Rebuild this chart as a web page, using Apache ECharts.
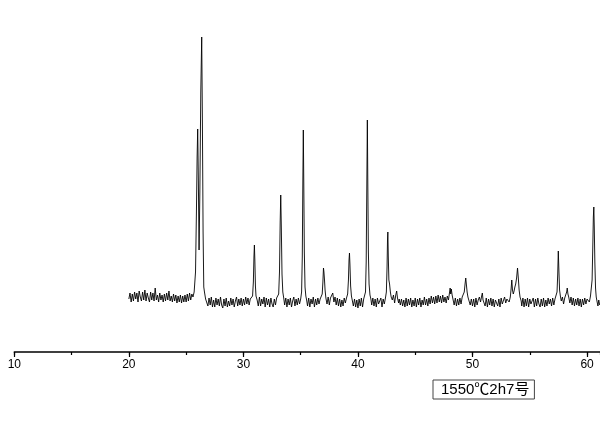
<!DOCTYPE html>
<html>
<head>
<meta charset="utf-8">
<script src="https://cdn.jsdelivr.net/npm/echarts@6/dist/echarts.min.js"></script>
<style>html,body{margin:0;padding:0;background:#fff}#chart{width:600px;height:421px}</style>
</head>
<body>
<div id="chart"></div>
<script>
// XRD scan: [2θ (deg), intensity (a.u.)]
const scanA = [
  [20.0,53],[20.1,59],[20.2,50],[20.3,58],[20.4,51],[20.5,60],[20.6,53],[20.7,59],[20.8,50],[20.9,61],
  [21.0,55],[21.1,51],[21.2,60],[21.3,52],[21.4,62],[21.5,51],[21.6,59],[21.7,54],[21.8,50],[21.9,60],
  [22.0,52],[22.1,59],[22.2,51],[22.3,64],[22.4,52],[22.5,57],[22.6,50],[22.7,59],[22.8,52],[22.9,57],
  [23.0,50],[23.1,58],[23.2,51],[23.3,59],[23.4,52],[23.5,61],[23.6,51],[23.7,56],[23.8,50],[23.9,58],
  [24.0,51],[24.1,57],[24.2,49],[24.3,56],[24.4,50],[24.5,57],[24.6,49],[24.7,56],[24.8,50],[24.9,57],
  [25.0,50],[25.1,58],[25.2,51],[25.3,59],[25.4,52],[25.5,58],[25.6,55],[25.7,60],
  [25.75,60],[25.82,80],[25.9,140],[25.96,195],[26.01,223],[26.07,170],[26.13,102],[26.2,160],
  [26.28,260],[26.36,315],[26.42,230],[26.48,120],[26.54,65],[26.6,60],[26.7,53]
];
const scanB = [
  [26.8,52],[26.9,46],[27.0,54],[27.1,47],[27.2,55],[27.3,45],[27.4,52],[27.5,45],[27.6,54],[27.7,47],
  [27.8,53],[27.9,46],[28.0,55],[28.1,47],[28.2,44],[28.3,53],[28.4,46],[28.5,54],[28.6,45],[28.7,51],
  [28.8,46],[28.9,54],[29.0,47],[29.1,53],[29.2,45],[29.3,51],[29.4,55],[29.5,46],[29.6,53],[29.7,47],
  [29.8,54],[29.9,46],[30.0,53],[30.1,47],[30.2,55],[30.3,48],[30.4,54],[30.5,47],[30.6,53],[30.7,51],
  [30.8,56],[30.87,70],[30.92,95],[30.96,107],[31.0,92],[31.05,66],[31.1,56],[31.2,52],
  [31.3,46],[31.4,55],[31.5,46],[31.6,53],[31.7,48],[31.8,55],[31.9,45],[32.0,54],[32.1,47],[32.2,53],
  [32.3,45],[32.4,54],[32.5,48],[32.6,45],[32.7,53],[32.8,47],[32.9,54],[33.0,52],
  [33.08,58],[33.15,80],[33.21,130],[33.26,157],[33.31,125],[33.37,78],[33.44,60],[33.52,54],
  [33.6,47],[33.7,54],[33.8,45],[33.9,53],[34.0,47],[34.1,54],[34.2,45],[34.3,51],[34.4,55],[34.5,46],
  [34.6,53],[34.7,47],[34.8,54],[34.9,48],[35.0,53],
  [35.08,60],[35.14,95],[35.19,170],[35.23,222],[35.27,170],[35.32,100],[35.38,65],[35.45,56],[35.52,52]
];
const scanC = [
  [35.6,46],[35.7,54],[35.8,45],[35.9,53],[36.0,48],[36.1,55],[36.2,45],[36.3,53],[36.4,47],[36.5,54],
  [36.6,48],[36.7,53],[36.8,54],
  [36.88,58],[36.94,70],[36.99,84],[37.03,80],[37.08,72],[37.13,62],[37.2,54],
  [37.3,48],[37.4,55],[37.5,47],[37.6,54],[37.7,52],[37.8,59],[37.9,50],[38.0,55],[38.1,47],[38.2,54],
  [38.3,46],[38.4,53],[38.5,45],[38.6,52],[38.7,46],[38.8,54],[38.9,49],[39.0,54],
  [39.1,58],[39.17,72],[39.22,92],[39.26,99],[39.3,88],[39.36,66],[39.43,56],[39.5,52],
  [39.6,46],[39.7,53],[39.8,45],[39.9,52],[40.0,44],[40.1,53],[40.2,46],[40.3,54],[40.4,45],[40.5,53],[40.6,54],
  [40.66,60],[40.72,90],[40.77,160],[40.82,232],[40.86,170],[40.91,100],[40.97,68],[41.05,57],[41.13,53],
  [41.2,47],[41.3,54],[41.4,46],[41.5,53],[41.6,45],[41.7,54],[41.8,48],[41.9,46],[42.0,54],[42.1,45],
  [42.2,53],[42.3,48],[42.4,54],
  [42.48,60],[42.54,85],[42.58,112],[42.61,120],[42.65,95],[42.7,72],[42.76,68],[42.83,60],[42.9,55],
  [43.0,52],[43.1,57],[43.2,49],[43.3,57],[43.38,61],[43.45,54],[43.55,49],[43.6,53]
];
const scanD = [
  [43.7,47],[43.8,53],[43.9,46],[44.0,52],[44.1,45],[44.2,54],[44.3,46],[44.4,53],[44.5,47],[44.6,54],
  [44.7,45],[44.8,52],[44.9,46],[45.0,54],[45.1,45],[45.2,53],[45.3,47],[45.4,54],[45.5,45],[45.6,52],
  [45.7,47],[45.8,55],[45.9,47],[46.0,53],[46.1,46],[46.2,54],[46.3,48],[46.4,56],[46.5,49],[46.6,55],
  [46.7,48],[46.8,56],[46.9,49],[47.0,57],[47.1,50],[47.2,56],[47.3,49],[47.4,57],[47.5,50],[47.6,55],
  [47.7,49],[47.8,56],[47.9,52],
  [48.0,60],[48.05,64],[48.1,58],[48.15,63],[48.22,57],[48.3,55],[48.4,47],[48.5,54],[48.6,46],[48.7,53],
  [48.8,47],[48.9,54],[49.0,48],[49.1,55],[49.2,53],
  [49.28,60],[49.35,68],[49.41,74],[49.47,67],[49.53,60],[49.6,55],[49.7,54],[49.8,47],[49.9,53]
];
const scanE = [
  [50.0,46],[50.1,53],[50.2,45],[50.3,54],[50.4,47],[50.5,52],[50.6,55],[50.7,50],[50.8,56],[50.86,59],
  [50.92,52],[51.0,54],[51.1,46],[51.2,54],[51.3,45],[51.4,53],[51.5,47],[51.6,54],[51.7,46],[51.8,53],
  [51.9,45],[52.0,52],[52.1,54],[52.2,46],[52.3,53],[52.4,45],[52.5,54],[52.6,48],[52.7,46],[52.8,55],
  [52.9,49],[53.0,53],[53.1,55],[53.2,50],
  [53.3,55],[53.37,63],[53.43,72],[53.49,62],[53.56,58],[53.63,61],[53.7,65],[53.77,68],[53.85,74],
  [53.93,84],[54.0,74],[54.07,62],[54.15,55],[54.25,51],
  [54.3,46],[54.4,54],[54.5,45],[54.6,53],[54.7,46],[54.8,54],[54.9,45],[55.0,53],[55.1,48],[55.2,46],
  [55.3,54],[55.4,45],[55.5,53],[55.6,46],[55.7,54],[55.8,48],[55.9,45],[56.0,53],[56.1,46],[56.2,54],
  [56.3,45],[56.4,52],[56.5,46],[56.6,54],[56.7,48],[56.8,53],[56.9,46],[57.0,54],[57.1,47],[57.2,53],[57.3,55],
  [57.38,60],[57.44,78],[57.49,101],[57.54,82],[57.6,62],[57.67,56],[57.75,51],[57.85,55],[57.95,48],
  [58.05,54],[58.15,55],[58.22,60],[58.27,64],[58.33,58],[58.4,55],[58.5,49],[58.6,55],[58.7,47],[58.8,54],
  [58.9,46],[59.0,53],[59.1,47],[59.2,54],[59.3,46],[59.4,53],[59.5,45],[59.6,53],[59.7,47],[59.8,54],
  [59.9,48],[60.0,53],[60.1,55],[60.2,50],[60.3,56],
  [60.38,58],[60.44,72],[60.5,105],[60.55,135],[60.59,145],[60.63,125],[60.68,90],[60.74,64],[60.8,55],
  [60.88,50],[60.95,46],[61.02,52],[61.1,47]
];
const seriesName = '1550℃2h7号';
const axisTicks = [10, 20, 30, 40, 50, 60];

const scan = [].concat(scanA, scanB, scanC, scanD, scanE);

const chart = echarts.init(document.getElementById('chart'), null, {renderer: 'canvas'});
chart.setOption({
  animation: false,
  backgroundColor: '#fff',
  grid: {left: 14.3, right: 0, top: 0, bottom: 69, containLabel: false},
  xAxis: [{
    type: 'value', min: 10, max: 61.13, interval: 10, position: 'bottom',
    axisLine: {show: true, lineStyle: {color: '#000', width: 1.5}},
    axisTick: {show: true, length: 5, lineStyle: {color: '#000', width: 1.2}},
    splitLine: {show: false},
    axisLabel: {
      color: '#000', fontSize: 12, margin: 7, fontFamily: 'Liberation Sans, Arial, sans-serif',
      showMaxLabel: false,
      formatter: v => axisTicks.includes(v) ? String(v) : ''
    }
  }, {
    type: 'value', min: 10, max: 61.13, interval: 5, position: 'bottom', offset: 0,
    axisLine: {show: false},
    axisTick: {show: true, length: 3, lineStyle: {color: '#000', width: 1.2}},
    splitLine: {show: false},
    axisLabel: {show: false}
  }],
  yAxis: {type: 'value', min: 0, max: 352, show: false},
  legend: {
    show: true, left: 433, top: 380, orient: 'horizontal',
    icon: 'none', itemWidth: 0, itemHeight: 0,
    padding: [2, 5, 2, 3],
    borderColor: '#444', borderWidth: 1, backgroundColor: '#fff',
    textStyle: {color: '#000', fontSize: 15, fontFamily: 'Liberation Sans, Noto Sans CJK SC, sans-serif'},
    data: [seriesName]
  },
  series: [{
    name: seriesName, type: 'line', xAxisIndex: 0, data: scan, showSymbol: false, symbol: 'none',
    lineStyle: {color: '#000', width: 0.9}, clip: true
  }]
});
</script>
</body>
</html>
